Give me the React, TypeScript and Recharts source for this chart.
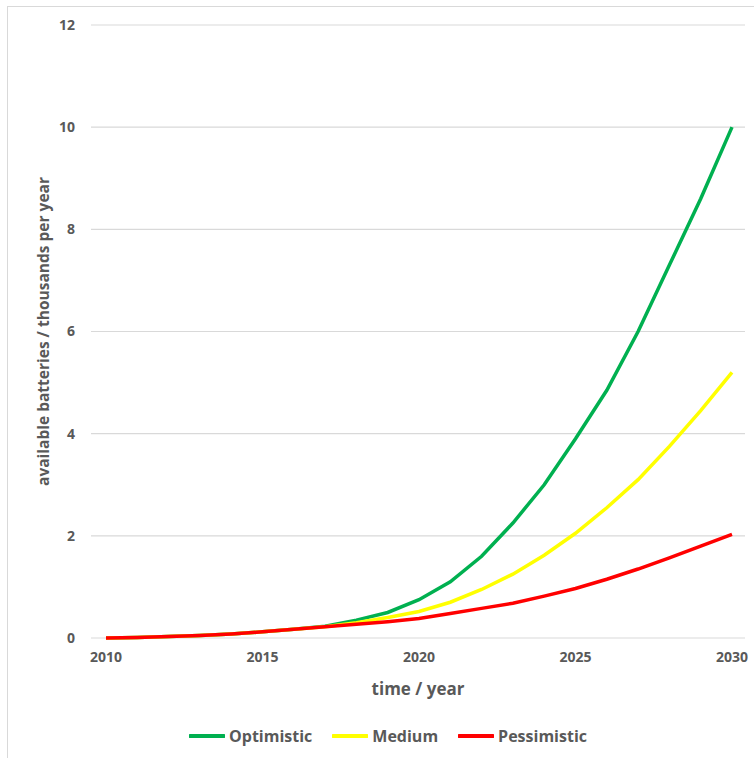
import { LineChart, Line, XAxis, YAxis, CartesianGrid, Legend } from "recharts";

const years = [
  2010, 2011, 2012, 2013, 2014, 2015, 2016, 2017, 2018, 2019, 2020,
  2021, 2022, 2023, 2024, 2025, 2026, 2027, 2028, 2029, 2030,
];
const optimistic = [
  0, 0.01, 0.03, 0.05, 0.08, 0.12, 0.17, 0.23, 0.35, 0.5, 0.75,
  1.1, 1.6, 2.25, 3.0, 3.9, 4.85, 6.0, 7.3, 8.6, 10.0,
];
const medium = [
  0, 0.01, 0.03, 0.05, 0.08, 0.12, 0.17, 0.22, 0.3, 0.4, 0.52,
  0.7, 0.95, 1.25, 1.62, 2.05, 2.55, 3.1, 3.75, 4.45, 5.2,
];
const pessimistic = [
  0, 0.01, 0.03, 0.05, 0.08, 0.12, 0.17, 0.22, 0.27, 0.32, 0.38,
  0.48, 0.58, 0.68, 0.82, 0.97, 1.15, 1.35, 1.57, 1.8, 2.03,
];
const xTicks = [2010, 2015, 2020, 2025, 2030];
const yTicks = [0, 2, 4, 6, 8, 10, 12];

const series = [
  { key: "optimistic", name: "Optimistic", color: "#00B050" },
  { key: "medium", name: "Medium", color: "#FFFF00" },
  { key: "pessimistic", name: "Pessimistic", color: "#FF0000" },
];

const data = years.map((year, i) => ({
  year,
  optimistic: optimistic[i],
  medium: medium[i],
  pessimistic: pessimistic[i],
}));

const FONT = "'Open Sans', sans-serif";
const TEXT = "#595959";

function LegendContent() {
  return (
    <div
      style={{
        display: "flex",
        justifyContent: "center",
        alignItems: "center",
        height: 20,
        gap: 20,
        fontFamily: FONT,
        fontWeight: 700,
        fontSize: 16,
        color: TEXT,
        paddingLeft: 31,
      }}
    >
      {series.map((s) => (
        <div key={s.key} style={{ display: "flex", alignItems: "center" }}>
          <svg width={36} height={6} style={{ marginRight: 4 }}>
            <line x1={1} y1={3} x2={35} y2={3} stroke={s.color} strokeWidth={4} strokeLinecap="round" />
          </svg>
          <span>{s.name}</span>
        </div>
      ))}
    </div>
  );
}

export default function App() {
  return (
    <div style={{ position: "absolute", left: 0, top: 0, width: 754, height: 758, background: "#fff" }}>
      <div
        style={{
          position: "absolute",
          left: 7,
          top: 6,
          width: 747,
          height: 752,
          borderLeft: "1.5px solid #d9d9d9",
          borderTop: "1.5px solid #d9d9d9",
        }}
      />
      <LineChart
        width={754}
        height={758}
        data={data}
        margin={{ top: 25, right: 9, left: 0, bottom: 12 }}
        style={{ position: "absolute", left: 0, top: 0 }}
      >
        <CartesianGrid vertical={false} stroke="#d9d9d9" strokeWidth={1.2} />
        <XAxis
          dataKey="year"
          type="number"
          domain={[2010, 2030]}
          ticks={xTicks}
          padding={{ left: 15, right: 13 }}
          axisLine={false}
          tickLine={false}
          tickSize={0}
          tickMargin={14}
          height={88}
          tick={{ fill: TEXT, fontSize: 14, fontWeight: 700, fontFamily: FONT }}
          label={{
            content: (props: any) => {
              const vb = props.viewBox;
              return (
                <text
                  x={vb.x + vb.width / 2}
                  y={688}
                  textAnchor="middle"
                  dominantBaseline="central"
                  fill={TEXT}
                  fontFamily={FONT}
                  fontWeight={700}
                  fontSize={17}
                >
                  time / year
                </text>
              );
            },
          }}
        />
        <YAxis
          domain={[0, 12]}
          ticks={yTicks}
          width={91}
          axisLine={false}
          tickLine={false}
          tickSize={0}
          tickMargin={16}
          tick={{ fill: TEXT, fontSize: 14, fontWeight: 700, fontFamily: FONT }}
          label={{
            content: (props: any) => {
              const vb = props.viewBox;
              const cx = 43;
              const cy = vb.y + vb.height / 2;
              return (
                <text
                  x={cx}
                  y={cy}
                  transform={`rotate(-90 ${cx} ${cy})`}
                  textAnchor="middle"
                  dominantBaseline="central"
                  fill={TEXT}
                  fontFamily={FONT}
                  fontWeight={700}
                  fontSize={15.5}
                >
                  available batteries / thousands per year
                </text>
              );
            },
          }}
        />
        <Legend verticalAlign="bottom" content={<LegendContent />} />
        {series.map((s) => (
          <Line
            key={s.key}
            type="linear"
            dataKey={s.key}
            name={s.name}
            stroke={s.color}
            strokeWidth={3.5}
            dot={false}
            activeDot={false}
            isAnimationActive={false}
          />
        ))}
      </LineChart>
    </div>
  );
}
